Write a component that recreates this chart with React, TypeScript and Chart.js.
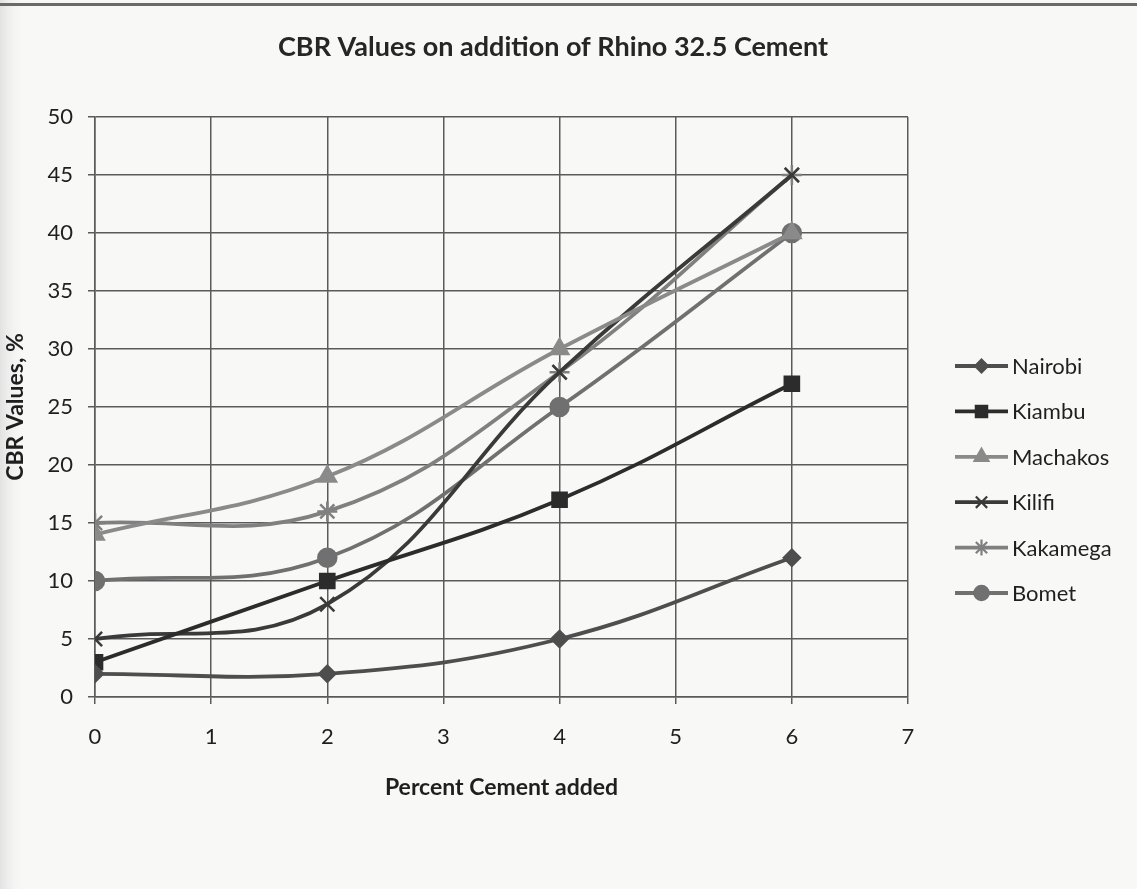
import React, { useEffect, useRef } from 'react';
import { Chart, registerables } from 'chart.js';
import { drawPoint } from 'chart.js/helpers';

Chart.register(...registerables);

// Cement added (%) at which CBR was measured
const cementPercent = [0, 2, 4, 6];

// CBR values (%) per site
const nairobi = [2, 2, 5, 12];
const kiambu = [3, 10, 17, 27];
const machakos = [14, 19, 30, 40];
const kilifi = [5, 8, 28, 45];
const kakamega = [15, 16, 28, 45];
const bomet = [10, 12, 25, 40];

const siteNames = ['Nairobi', 'Kiambu', 'Machakos', 'Kilifi', 'Kakamega', 'Bomet'];
const siteValues = [nairobi, kiambu, machakos, kilifi, kakamega, bomet];
const siteColors = ['#4e4e4e', '#2c2c2c', '#8a8a8a', '#3a3a3a', '#808080', '#707070'];
const siteMarkers = ['rectRot', 'rect', 'triangle', 'crossRot', 'star', 'circle'];
const siteMarkerSizes = [8, 10, 10, 10, 10, 9];

const chartTitle = 'CBR Values on addition of Rhino 32.5 Cement';
const xTitle = 'Percent Cement added';
const yTitle = 'CBR Values, %';

const FONT = 'Lato, "Open Sans", sans-serif';
const TEXT_COLOR = '#1f1f1f';

// Paints the paper background and the chart heading
const backgroundPlugin = {
  id: 'paperBackground',
  beforeDraw(chart: any) {
    const { ctx, width, height } = chart;
    ctx.save();
    ctx.fillStyle = '#f8f8f7';
    ctx.fillRect(0, 0, width, height);
    const g = ctx.createLinearGradient(0, 0, 26, 0);
    g.addColorStop(0, '#e2e2e2');
    g.addColorStop(1, 'rgba(248,248,247,0)');
    ctx.fillStyle = g;
    ctx.fillRect(0, 0, 26, height);
    ctx.fillStyle = '#6a6a6a';
    ctx.fillRect(0, 3, width, 3);
    ctx.restore();
  },
  afterDraw(chart: any) {
    const { ctx } = chart;
    ctx.save();
    ctx.fillStyle = '#262626';
    ctx.font = `bold 27px ${FONT}`;
    ctx.textAlign = 'center';
    ctx.textBaseline = 'middle';
    ctx.fillText(chartTitle, 553, 47);
    ctx.restore();
  },
};

// Legend drawn as line + marker samples to the right of the plot
const lineLegendPlugin = {
  id: 'lineLegend',
  afterDraw(chart: any) {
    const { ctx, chartArea } = chart;
    const x0 = chartArea.right + 47;
    const x1 = x0 + 53;
    const top = 366;
    const step = 45.4;
    ctx.save();
    siteNames.forEach((name, i) => {
      const y = top + i * step;
      ctx.strokeStyle = siteColors[i];
      ctx.fillStyle = siteColors[i];
      ctx.lineWidth = 3.8;
      ctx.beginPath();
      ctx.moveTo(x0, y);
      ctx.lineTo(x1, y);
      ctx.stroke();
      ctx.lineWidth = 2.2;
      drawPoint(
        ctx,
        { pointStyle: siteMarkers[i], radius: siteMarkerSizes[i] * 0.8, borderWidth: 2.2, rotation: 0 } as any,
        (x0 + x1) / 2,
        y
      );
      ctx.fillStyle = TEXT_COLOR;
      ctx.font = `22px ${FONT}`;
      ctx.textAlign = 'left';
      ctx.textBaseline = 'middle';
      ctx.fillText(name, x1 + 4, y + 1);
    });
    ctx.restore();
  },
};

export default function App() {
  const canvasRef = useRef<HTMLCanvasElement | null>(null);

  useEffect(() => {
    if (!canvasRef.current) return;
    const datasets = siteNames.map((name, i) => ({
      label: name,
      data: cementPercent.map((x, j) => ({ x, y: siteValues[i][j] })),
      showLine: true,
      borderColor: siteColors[i],
      backgroundColor: siteColors[i],
      borderWidth: 3.8,
      tension: 0.4,
      pointStyle: siteMarkers[i],
      pointRadius: siteMarkerSizes[i],
      pointBorderWidth: 2.5,
      pointBackgroundColor: siteColors[i],
      pointBorderColor: siteColors[i],
    }));

    const chart = new Chart(canvasRef.current, {
      type: 'scatter',
      data: { datasets },
      plugins: [backgroundPlugin, lineLegendPlugin],
      options: {
        responsive: false,
        animation: false,
        layout: { padding: { top: 117, right: 229, bottom: 0, left: 0 } },
        plugins: {
          legend: { display: false },
          title: { display: false },
          tooltip: { enabled: false },
        },
        scales: {
          x: {
            type: 'linear',
            min: 0,
            max: 7,
            afterFit: (scale: any) => {
              scale.height = 192;
            },
            ticks: {
              stepSize: 1,
              padding: 20,
              color: TEXT_COLOR,
              font: { family: FONT, size: 22 },
            },
            grid: {
              color: '#5a5a5a',
              lineWidth: 1.5,
              tickLength: 7,
              tickColor: '#5a5a5a',
            },
            border: { color: '#5a5a5a', width: 1.5 },
            title: {
              display: true,
              text: xTitle,
              color: TEXT_COLOR,
              font: { family: FONT, size: 23, weight: 'bold' },
              padding: { top: 0, bottom: 88 },
            },
          },
          y: {
            type: 'linear',
            min: 0,
            max: 50,
            afterFit: (scale: any) => {
              scale.width = 95;
            },
            ticks: {
              stepSize: 5,
              padding: 15,
              color: TEXT_COLOR,
              font: { family: FONT, size: 22 },
            },
            grid: {
              color: '#5a5a5a',
              lineWidth: 1.5,
              tickLength: 7,
              tickColor: '#5a5a5a',
            },
            border: { color: '#5a5a5a', width: 1.5 },
            title: {
              display: true,
              text: yTitle,
              color: TEXT_COLOR,
              font: { family: FONT, size: 23, weight: 'bold' },
              padding: { top: 2, bottom: 0 },
            },
          },
        },
      },
    });
    return () => chart.destroy();
  }, []);

  return (
    <div style={{ position: 'absolute', left: 0, top: 0, width: 1137, height: 889 }}>
      <canvas ref={canvasRef} width={1137} height={889} />
    </div>
  );
}
